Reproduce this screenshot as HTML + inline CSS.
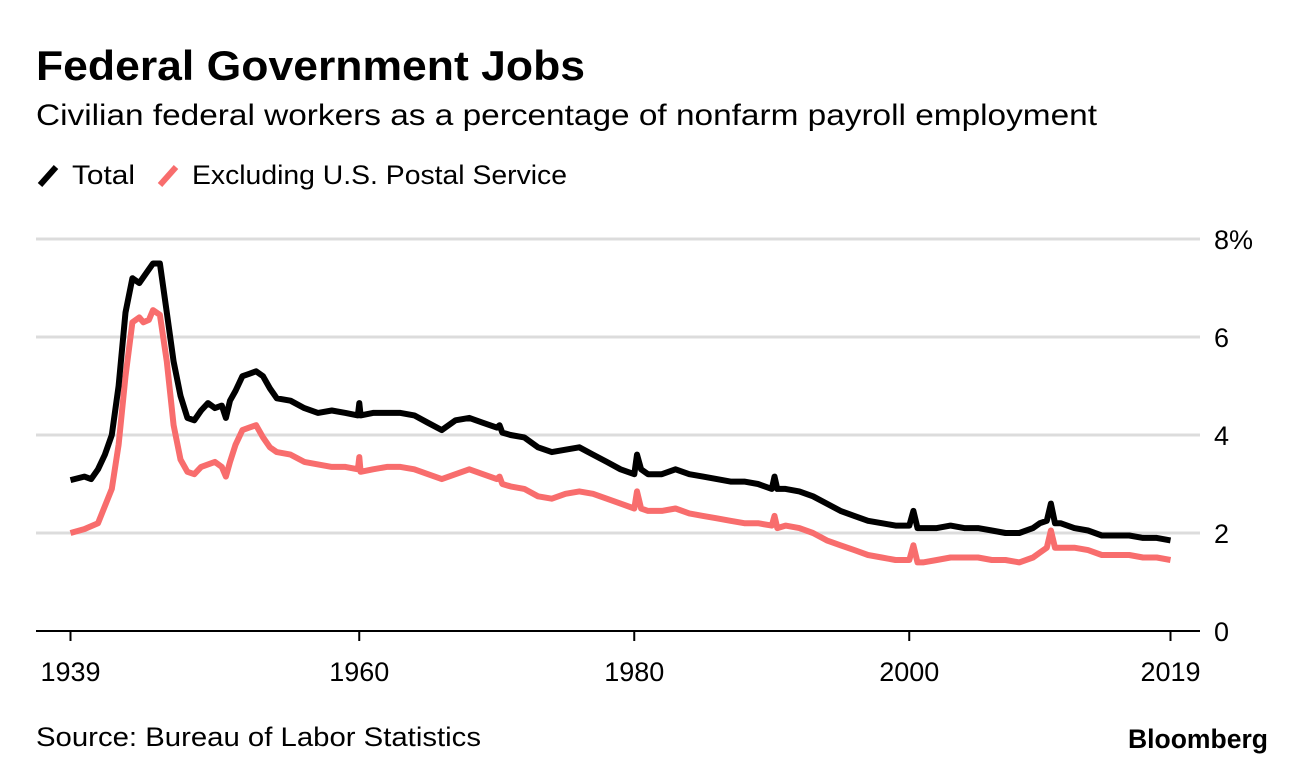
<!DOCTYPE html>
<html><head><meta charset="utf-8"><style>
body{margin:0;background:#fff;width:1296px;height:768px;overflow:hidden;font-family:"Liberation Sans",sans-serif;}
svg text{font-family:"Liberation Sans",sans-serif;}
</style></head><body>
<svg width="1296" height="768">
<text x="36" y="80" font-size="42" font-weight="bold" textLength="549" lengthAdjust="spacingAndGlyphs">Federal Government Jobs</text>
<text x="36" y="125" font-size="30" textLength="1061" lengthAdjust="spacingAndGlyphs">Civilian federal workers as a percentage of nonfarm payroll employment</text>
<g>
<line x1="40" y1="185" x2="56" y2="167" stroke="#000" stroke-width="6"/>
<text x="72" y="184" font-size="27" textLength="63" lengthAdjust="spacingAndGlyphs">Total</text>
<line x1="160" y1="185" x2="176" y2="167" stroke="#f86d6d" stroke-width="6"/>
<text x="192" y="184" font-size="27" textLength="375" lengthAdjust="spacingAndGlyphs">Excluding U.S. Postal Service</text>
</g>
<g id="grid"></g><g id="series"></g>
<text x="36" y="746" font-size="27" textLength="445" lengthAdjust="spacingAndGlyphs">Source: Bureau of Labor Statistics</text>
<text x="1268" y="748" font-size="27" font-weight="bold" text-anchor="end" textLength="140" lengthAdjust="spacingAndGlyphs">Bloomberg</text>
</svg>
<script>
const yTicks=[0,2,4,6,8];
const yTickLabels=["0","2","4","6","8%"];
const xTicks=[1939,1960,1980,2000,2019];
const xTickLabels=["1939","1960","1980","2000","2019"];
const totalYears=[1939,1940,1940.5,1941,1941.5,1942,1942.5,1943,1943.5,1944,1944.5,1945,1945.5,1946,1946.5,1947,1947.5,1948,1948.5,1949,1949.5,1950,1950.3,1950.6,1951,1951.5,1952,1952.5,1953,1953.5,1954,1955,1956,1957,1958,1959,1959.9,1960,1960.1,1961,1962,1963,1964,1965,1966,1967,1968,1969,1970,1970.2,1970.4,1971,1972,1973,1974,1975,1976,1977,1978,1979,1980,1980.2,1980.5,1981,1982,1983,1984,1985,1986,1987,1988,1989,1990,1990.2,1990.4,1991,1992,1993,1994,1995,1996,1997,1998,1999,2000,2000.3,2000.6,2001,2002,2003,2004,2005,2006,2007,2008,2009,2009.5,2010,2010.3,2010.6,2011,2012,2013,2014,2015,2016,2017,2018,2019];
const totalValues=[3.08,3.15,3.1,3.3,3.6,4.0,5.0,6.5,7.2,7.1,7.3,7.5,7.5,6.5,5.5,4.8,4.35,4.3,4.5,4.65,4.55,4.6,4.35,4.7,4.9,5.2,5.25,5.3,5.2,4.95,4.75,4.7,4.55,4.45,4.5,4.45,4.4,4.65,4.4,4.45,4.45,4.45,4.4,4.25,4.1,4.3,4.35,4.25,4.15,4.2,4.05,4.0,3.95,3.75,3.65,3.7,3.75,3.6,3.45,3.3,3.2,3.6,3.3,3.2,3.2,3.3,3.2,3.15,3.1,3.05,3.05,3.0,2.9,3.15,2.9,2.9,2.85,2.75,2.6,2.45,2.35,2.25,2.2,2.15,2.15,2.45,2.1,2.1,2.1,2.15,2.1,2.1,2.05,2.0,2.0,2.1,2.2,2.25,2.6,2.2,2.2,2.1,2.05,1.95,1.95,1.95,1.9,1.9,1.85];
const exYears=[1939,1940,1941,1942,1942.5,1943,1943.5,1944,1944.3,1944.7,1945,1945.5,1946,1946.5,1947,1947.5,1948,1948.5,1949,1949.5,1950,1950.3,1950.6,1951,1951.5,1952,1952.5,1953,1953.5,1954,1955,1956,1957,1958,1959,1959.9,1960,1960.1,1961,1962,1963,1964,1965,1966,1967,1968,1969,1970,1970.2,1970.4,1971,1972,1973,1974,1975,1976,1977,1978,1979,1980,1980.2,1980.5,1981,1982,1983,1984,1985,1986,1987,1988,1989,1990,1990.2,1990.4,1991,1992,1993,1994,1995,1996,1997,1998,1999,2000,2000.3,2000.6,2001,2002,2003,2004,2005,2006,2007,2008,2009,2009.5,2010,2010.3,2010.6,2011,2012,2013,2014,2015,2016,2017,2018,2019];
const exValues=[2.0,2.08,2.2,2.9,3.8,5.2,6.3,6.4,6.3,6.35,6.55,6.45,5.5,4.2,3.5,3.25,3.2,3.35,3.4,3.45,3.35,3.15,3.45,3.8,4.1,4.15,4.2,3.95,3.75,3.65,3.6,3.45,3.4,3.35,3.35,3.3,3.55,3.25,3.3,3.35,3.35,3.3,3.2,3.1,3.2,3.3,3.2,3.1,3.15,3.0,2.95,2.9,2.75,2.7,2.8,2.85,2.8,2.7,2.6,2.5,2.85,2.5,2.45,2.45,2.5,2.4,2.35,2.3,2.25,2.2,2.2,2.15,2.35,2.1,2.15,2.1,2.0,1.85,1.75,1.65,1.55,1.5,1.45,1.45,1.75,1.4,1.4,1.45,1.5,1.5,1.5,1.45,1.45,1.4,1.5,1.6,1.7,2.05,1.7,1.7,1.7,1.65,1.55,1.55,1.55,1.5,1.5,1.45];
const NS="http://www.w3.org/2000/svg";
const xs=y=>70.5+(y-1939)*13.75;
const ys=v=>631-v*49;
const grid=document.getElementById('grid'),ser=document.getElementById('series');
yTicks.forEach((t,i)=>{
 const l=document.createElementNS(NS,'line');
 l.setAttribute('x1',36);l.setAttribute('x2',1200);
 l.setAttribute('y1',ys(t));l.setAttribute('y2',ys(t));
 l.setAttribute('stroke',t===0?'#000':'#dcdcdc');l.setAttribute('stroke-width',t===0?2:3);
 
 
 grid.appendChild(l);
 const tx=document.createElementNS(NS,'text');
 tx.setAttribute('x',1214);tx.setAttribute('y',ys(t)+10);tx.setAttribute('font-size',27);
 tx.textContent=yTickLabels[i];
 
 
 grid.appendChild(tx);
});
xTicks.forEach((t,i)=>{
 const l=document.createElementNS(NS,'line');
 l.setAttribute('x1',xs(t));l.setAttribute('x2',xs(t));l.setAttribute('y1',631);l.setAttribute('y2',641);
 l.setAttribute('stroke','#000');l.setAttribute('stroke-width',2);
 
 
 grid.appendChild(l);
 const tx=document.createElementNS(NS,'text');
 tx.setAttribute('x',xs(t));tx.setAttribute('y',681);tx.setAttribute('font-size',27);tx.setAttribute('text-anchor','middle');
 tx.textContent=xTickLabels[i];
 
 
 grid.appendChild(tx);
});
function line(yr,vals,col,name){
 const p=document.createElementNS(NS,'polyline');
 p.setAttribute('points',yr.map((y,i)=>xs(y).toFixed(1)+','+ys(vals[i]).toFixed(1)).join(' '));
 p.setAttribute('fill','none');p.setAttribute('stroke',col);p.setAttribute('stroke-width',6);p.setAttribute('stroke-linejoin','round');
 
 
 ser.appendChild(p);
}
line(exYears,exValues,'#f86d6d','series-ex-usps-line');
line(totalYears,totalValues,'#000','series-total-line');
</script>
</body></html>
